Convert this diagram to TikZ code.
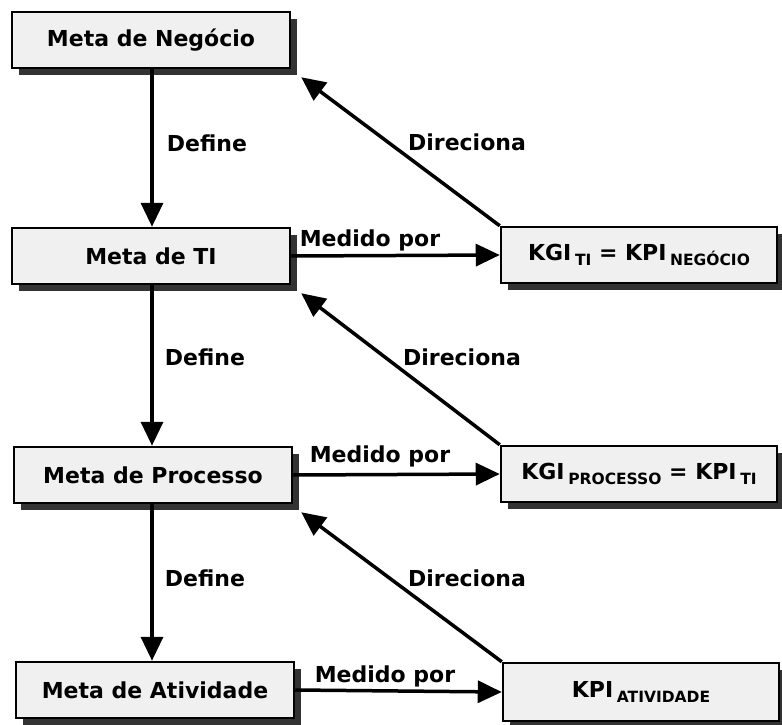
\documentclass[tikz,border=0pt]{standalone}
\usepackage{fontspec}
\setmainfont{DejaVu Sans}
\usetikzlibrary{arrows.meta,shadows}
\newcommand\subx[1]{\raisebox{-5pt}{\fontsize{15.5pt}{16pt}\selectfont #1}}
\begin{document}
\begin{tikzpicture}[x=1pt,y=-1pt,
  box/.style={draw=black, line width=2.5pt, fill=gray!12, rectangle, inner sep=0pt,
    font=\fontsize{22pt}{24pt}\selectfont\bfseries,
    drop shadow={shadow xshift=7pt, shadow yshift=-7pt, fill=gray!40!black, opacity=1}},
  goal/.style={box, minimum width=278pt, minimum height=56pt},
  kbox/.style={box, minimum width=276pt, minimum height=56pt},
  lbl/.style={font=\fontsize{22pt}{24pt}\selectfont\bfseries, inner sep=0pt},
  arr/.style={draw=black, line width=3.5pt, -{Triangle[length=24pt,width=22pt]}}]
\useasboundingbox (0,0) rectangle (782,725);
\fill[white] (0,0) rectangle (782,725);

\node[goal] (neg) at (151,40) {Meta de Negócio};
\node[goal] (ti) at (151,256) {Meta de TI};
\node[goal] (proc) at (153,475) {Meta de Processo};
\node[goal] (ativ) at (155,690) {Meta de Atividade};

\node[kbox] (k1) at (639,255) {KGI\,\subx{TI} = KPI\,\subx{NEGÓCIO}};
\node[kbox] (k2) at (639,474) {KGI\,\subx{PROCESSO} = KPI\,\subx{TI}};
\node[kbox, minimum height=58pt] (k3) at (641,692) {KPI\,\subx{ATIVIDADE}};

\draw[arr] (neg.south -| 152,0) -- (ti.north -| 152,0);
\draw[arr] (ti.south -| 152,0) -- (proc.north -| 152,0);
\draw[arr] (proc.south -| 152,0) -- (ativ.north -| 152,0);

\draw[arr] (ti.east) -- (k1.west);
\draw[arr] (proc.east) -- (k2.west);
\draw[arr] (ativ.east) -- (k3.west);

\draw[arr] (k1.north west) -- ([shift={(10,8)}]neg.south east);
\draw[arr] (k2.north west) -- ([shift={(10,8)}]ti.south east);
\draw[arr] (k3.north west) -- ([shift={(8,8)}]proc.south east);

\node[lbl] (d1) at (207,143) {Define};
\node[lbl] (d2) at (205,357) {Define};
\node[lbl] (d3) at (205,578) {Define};
\node[lbl] (m1) at (370,240) {Medido por};
\node[lbl] (m2) at (380,456) {Medido por};
\node[lbl] (m3) at (385,676) {Medido por};
\node[lbl] (r1) at (467,142) {Direciona};
\node[lbl] (r2) at (462,357) {Direciona};
\node[lbl] (r3) at (467,578) {Direciona};
\end{tikzpicture}
\end{document}
